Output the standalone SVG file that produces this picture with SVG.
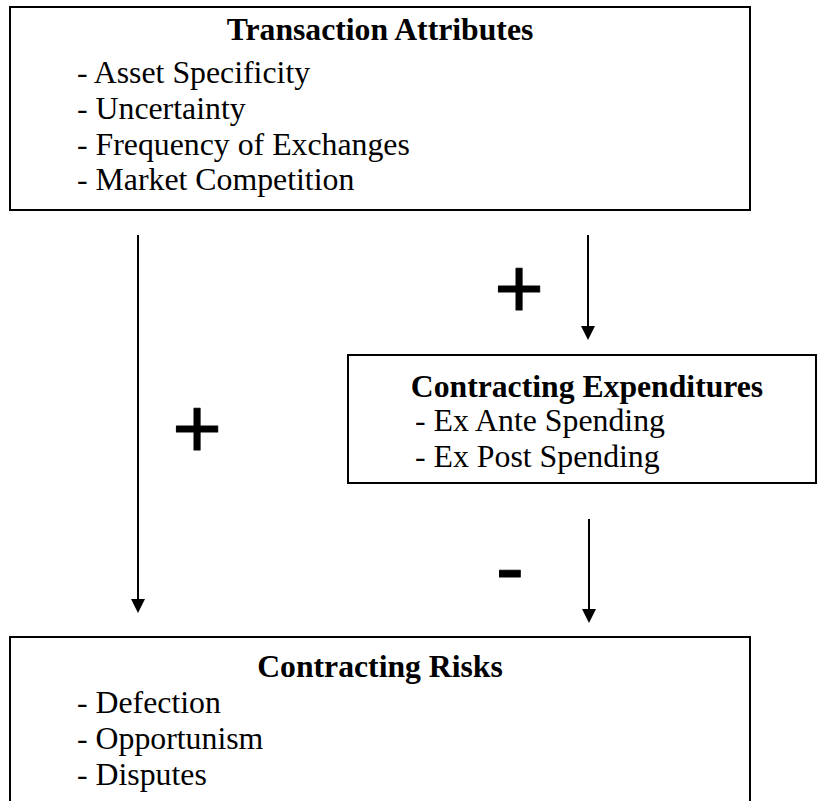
<svg xmlns="http://www.w3.org/2000/svg" width="817" height="801" viewBox="0 0 817 801">
  <style>
    .box { fill: #ffffff; stroke: #000000; stroke-width: 2; }
    .title { font-family: "Liberation Serif", "Times New Roman", serif; font-size: 31.7px; font-weight: bold; fill: #000; text-anchor: middle; }
    .item { font-family: "Liberation Serif", "Times New Roman", serif; font-size: 31.8px; fill: #000; }
    .sign { font-family: "Liberation Sans", Arial, sans-serif; font-size: 85px; fill: #000; stroke: #000; stroke-width: 1; stroke-linejoin: round; text-anchor: middle; }
    .conn { stroke: #000; stroke-width: 2; fill: none; marker-end: url(#arrow); }
  </style>
  <defs>
    <marker id="arrow" viewBox="0 0 14 14" refX="2" refY="7" markerWidth="14" markerHeight="14" markerUnits="userSpaceOnUse" orient="auto">
      <path d="M0,0 L14,7 L0,14 z" fill="#000"/>
    </marker>
  </defs>
  <rect width="817" height="801" fill="#ffffff"/>

  <g id="transaction-attributes">
    <rect class="box" x="10" y="7" width="740" height="203"/>
    <text class="title" x="380" y="40">Transaction Attributes</text>
    <text class="item" x="77" y="83">- Asset Specificity</text>
    <text class="item" x="77" y="119">- Uncertainty</text>
    <text class="item" x="77" y="155">- Frequency of Exchanges</text>
    <text class="item" x="77" y="190">- Market Competition</text>
  </g>

  <g id="contracting-expenditures">
    <rect class="box" x="348" y="355" width="468" height="128"/>
    <text class="title" x="587" y="397">Contracting Expenditures</text>
    <text class="item" x="415" y="431">- Ex Ante Spending</text>
    <text class="item" x="415" y="467">- Ex Post Spending</text>
  </g>

  <g id="contracting-risks">
    <rect class="box" x="10" y="637" width="740" height="200"/>
    <text class="title" x="380" y="677">Contracting Risks</text>
    <text class="item" x="77" y="713">- Defection</text>
    <text class="item" x="77" y="749">- Opportunism</text>
    <text class="item" x="77" y="785">- Disputes</text>
  </g>

  <g id="connectors">
    <line class="conn" x1="138" y1="235" x2="138" y2="601"/>
    <line class="conn" x1="588" y1="235" x2="588" y2="328"/>
    <line class="conn" x1="589" y1="519" x2="589" y2="611"/>
    <text class="sign" x="519" y="318">+</text>
    <text class="sign" x="197" y="458">+</text>
    <text class="sign" x="510" y="596">-</text>
  </g>
</svg>
